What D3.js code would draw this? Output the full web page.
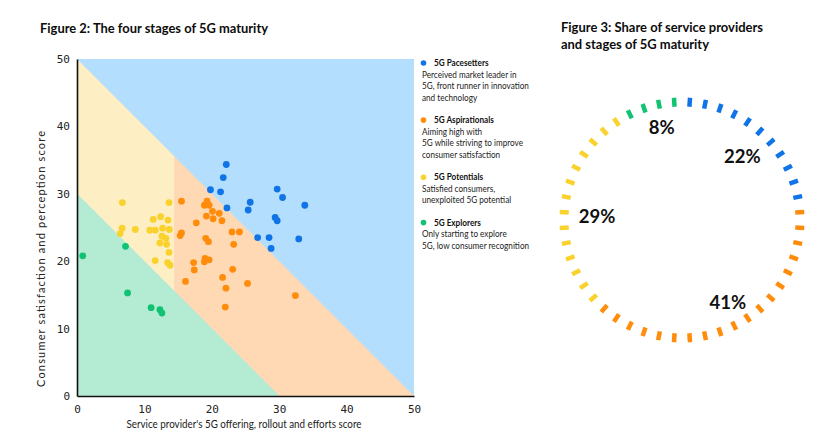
<!DOCTYPE html>
<html><head><meta charset="utf-8">
<script src="https://cdn.jsdelivr.net/npm/d3@7/dist/d3.min.js"></script>
<style>body{margin:0;background:#fff;} svg{display:block}</style>
</head><body>
<svg id="c" width="838" height="440"></svg>
<script>
// ---------- DATA ----------
const stages = ["5G Pacesetters", "5G Aspirationals", "5G Potentials", "5G Explorers"];
const stageColors = ["#1174e6", "#ff8c0a", "#fad22d", "#0fc373"];
const regionColors = ["#b4defd", "#fed9b4", "#fdeec4", "#b3ecd3"];
const descriptions = [
  ["Perceived market leader in", "5G, front runner in innovation", "and technology"],
  ["Aiming high with", "5G while striving to improve", "consumer satisfaction"],
  ["Satisfied consumers,", "unexploited 5G potential"],
  ["Only starting to explore", "5G, low consumer recognition"]
];
// [offering score, perception score]
const pacesetters = [[22.15,34.35],[21.7,32.4],[19.8,30.6],[21.3,30.3],[29.7,30.7],[30.5,29.45],[33.8,28.3],[25.7,28.75],[25.4,27.6],[22.25,27.9],[29.4,26.5],[29.7,26.0],[26.8,23.5],[28.5,23.5],[32.9,23.3],[28.8,21.9]];
const aspirationals = [[15.5,28.9],[19.3,28.9],[18.9,28.3],[19.6,28.3],[20.1,27.4],[21.1,27.1],[19.2,26.7],[20.2,26.3],[21.5,26.0],[17.7,25.7],[15.5,24.2],[15.3,23.8],[23.0,24.35],[24.1,24.35],[19.1,23.4],[19.5,22.9],[23.25,22.5],[17.3,19.8],[19.0,20.4],[19.6,20.2],[18.9,19.9],[17.4,18.7],[23.1,18.8],[16.1,17.0],[21.6,17.6],[22.1,16.0],[25.3,16.7],[32.4,14.9],[22.0,13.2]];
const potentials = [[6.73,28.7],[13.65,28.7],[11.3,26.2],[12.4,26.6],[13.5,26.1],[10.8,24.6],[11.6,24.6],[6.7,24.9],[6.4,24.1],[8.65,24.7],[12.7,24.9],[13.7,24.7],[12.6,23.7],[13.2,23.4],[12.3,22.7],[13.3,22.5],[13.65,21.3],[11.6,20.1],[13.45,19.8],[13.8,19.4]];
const explorers = [[0.85,20.8],[7.2,22.2],[7.5,15.3],[11.0,13.1],[12.3,12.8],[12.6,12.3]];
const seriesPoints = [pacesetters, aspirationals, potentials, explorers];
// zone boundaries: diagonal x+y thresholds and vertical split on offering score
const lowerSum = 30, upperSum = 50, offeringSplit = 14.4;
const xTicks = [0, 10, 20, 30, 40, 50];
const yTicks = [0, 10, 20, 30, 40, 50];
const shares = [22, 41, 29, 8];
const dashCount = 48;

// ---------- LAYOUT ----------
const labelNudge = [[3, 6], [5, 2], [4, 11], [2, -5]];

// ---------- SETUP ----------
const svg = d3.select("#c");
const font = "Lato, 'Noto Sans', sans-serif";
const x = d3.scaleLinear().domain([0, 50]).range([77, 414]);
const y = d3.scaleLinear().domain([0, 50]).range([396, 59]);

function fit(sel, w, mode) {
  sel.attr("textLength", w).attr("lengthAdjust", mode || "spacingAndGlyphs");
}

// Titles
fit(svg.append("text").attr("x", 40).attr("y", 33).attr("font-family", font).attr("font-weight", 700)
  .attr("font-size", 13.5).attr("fill", "#0c0c0c").text("Figure 2: The four stages of 5G maturity"), 228);
fit(svg.append("text").attr("x", 561).attr("y", 32).attr("font-family", font).attr("font-weight", 700)
  .attr("font-size", 13.5).attr("fill", "#0c0c0c").text("Figure 3: Share of service providers"), 202);
fit(svg.append("text").attr("x", 561).attr("y", 49).attr("font-family", font).attr("font-weight", 700)
  .attr("font-size", 13.5).attr("fill", "#0c0c0c").text("and stages of 5G maturity"), 148);

// ---------- ZONES ----------
const line = d3.line().x(d => x(d[0])).y(d => y(d[1]));
const zones = [
  [[0, 50], [50, 50], [50, 0], [0, 0]],
  [[offeringSplit, upperSum - offeringSplit], [upperSum, 0], [lowerSum, 0], [offeringSplit, lowerSum - offeringSplit]],
  [[0, upperSum], [offeringSplit, upperSum - offeringSplit], [offeringSplit, lowerSum - offeringSplit], [0, lowerSum]],
  [[0, lowerSum], [lowerSum, 0], [0, 0]]
];
svg.append("g").selectAll("path").data(zones).join("path")
  .attr("d", d => line(d) + "Z").attr("fill", (d, i) => regionColors[i]);

// ---------- POINTS ----------
const pg = svg.append("g");
seriesPoints.forEach((pts, i) => {
  pg.append("g").selectAll("circle").data(pts).join("circle")
    .attr("cx", d => x(d[0])).attr("cy", d => y(d[1])).attr("r", 3.4)
    .attr("fill", stageColors[i]);
});

// ---------- AXES ----------
const xAxis = svg.append("g").attr("transform", "translate(0,396)")
  .call(d3.axisBottom(x).tickValues(xTicks).tickSize(0).tickPadding(9));
const yAxis = svg.append("g").attr("transform", "translate(77,0)")
  .call(d3.axisLeft(y).tickValues(yTicks).tickSize(0).tickPadding(7));
[xAxis, yAxis].forEach(a => {
  a.select(".domain").attr("stroke", "#111").attr("stroke-width", 1.6);
  a.selectAll("text").attr("font-family", "'DejaVu Sans Mono', monospace").attr("font-size", 11).attr("fill", "#222");
});

fit(svg.append("text").attr("x", 244).attr("y", 428).attr("text-anchor", "middle")
  .attr("font-family", font).attr("font-size", 10.5).attr("fill", "#222")
  .text("Service provider's 5G offering, rollout and efforts score"), 235);
fit(svg.append("text").attr("transform", "translate(44.5,259) rotate(-90)").attr("text-anchor", "middle")
  .attr("font-family", font).attr("font-size", 11).attr("fill", "#222")
  .text("Consumer satisfaction and perception score"), 256, "spacing");

// ---------- LEGEND ----------
const lg = svg.append("g");
let ly = 66;
stages.forEach((s, i) => {
  lg.append("circle").attr("cx", 423.5).attr("cy", ly - 3).attr("r", 2.8).attr("fill", stageColors[i]);
  const h = lg.append("text").attr("x", 434).attr("y", ly).attr("font-family", font).attr("font-weight", 700)
    .attr("font-size", 9.5).attr("fill", "#111").text(s);
  const hw = h.node().getComputedTextLength();
  fit(h, hw * 0.86);
  descriptions[i].forEach((t, j) => {
    const tx = lg.append("text").attr("x", 422).attr("y", ly + 11.5 + j * 11.7).attr("font-family", font)
      .attr("font-size", 9.5).attr("fill", "#222").text(t);
    const w = tx.node().getComputedTextLength();
    fit(tx, w * 0.86);
  });
  ly += 22 + descriptions[i].length * 11.7;
});

// ---------- DONUT ----------
const cx = 682, cy = 220, r = 118;
const pie = d3.pie().sort(null).value(d => d)(shares);
const dg = svg.append("g").attr("transform", `translate(${cx},${cy})`);
const step = 2 * Math.PI / dashCount;
const dashes = d3.range(dashCount).map(k => {
  const a = step / 2 + k * step;
  const seg = pie.findIndex(p => a >= p.startAngle && a < p.endAngle);
  return { a, seg };
});
dg.selectAll("line").data(dashes).join("line")
  .attr("x1", d => Math.sin(d.a) * (r - 4.5)).attr("y1", d => -Math.cos(d.a) * (r - 4.5))
  .attr("x2", d => Math.sin(d.a) * (r + 4.5)).attr("y2", d => -Math.cos(d.a) * (r + 4.5))
  .attr("stroke", d => stageColors[d.seg]).attr("stroke-width", 4.5);
const labelArc = d3.arc().innerRadius(90).outerRadius(90);
dg.selectAll("text").data(pie).join("text")
  .attr("transform", (d, i) => {
    const c = labelArc.centroid(d);
    return `translate(${c[0] + labelNudge[i][0]},${c[1] + labelNudge[i][1]})`;
  })
  .attr("text-anchor", "middle").attr("dy", "0.35em")
  .attr("font-family", font).attr("font-weight", 700).attr("font-size", 18.5).attr("fill", "#111")
  .text(d => d.data + "%");
</script>
</body></html>
